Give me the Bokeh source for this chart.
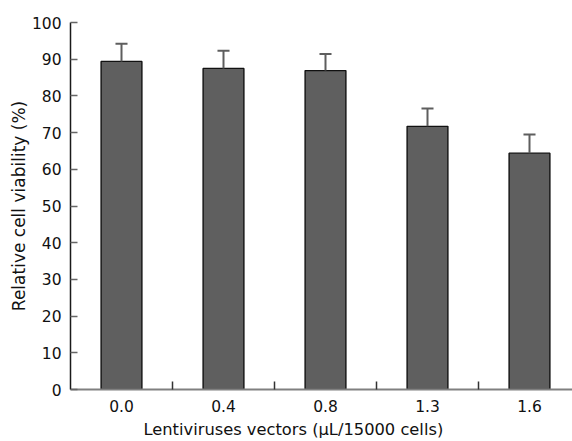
from bokeh.plotting import figure
from bokeh.models import ColumnDataSource, FixedTicker, LinearAxis, Range1d, Title
from bokeh.embed import file_html
from bokeh.resources import INLINE

categories = ["0.0", "0.4", "0.8", "1.3", "1.6"]
viability = [89.4, 87.5, 86.9, 71.7, 64.4]
errors = [4.8, 4.8, 4.5, 4.9, 5.1]
y_ticks = [0, 10, 20, 30, 40, 50, 60, 70, 80, 90, 100]
x_title = "Lentiviruses vectors (μL/15000 cells)"
y_title = "Relative cell viability (%)"

xs = list(range(len(categories)))
tops = [v + e for v, e in zip(viability, errors)]
cap = 0.059
src = ColumnDataSource(dict(x=xs, top=viability, etop=tops,
                            cl=[x - cap for x in xs], cr=[x + cap for x in xs]))

p = figure(width=572, height=441, output_backend="svg", toolbar_location=None,
           x_range=Range1d(-0.5, -0.5 + 502 / 102), y_range=Range1d(0, 100),
           min_border_left=70, min_border_right=0, min_border_top=22, min_border_bottom=0,
           x_axis_type=None, y_axis_type=None)
p.outline_line_color = None
p.grid.visible = False
p.background_fill_color = "white"
p.border_fill_color = "white"

p.vbar(x="x", width=0.4, top="top", bottom=0, source=src,
       fill_color="#5f5f5f", line_color="#111111", line_width=1.4)
p.segment(x0="x", y0="top", x1="x", y1="etop", source=src, line_color="#5e5e5e", line_width=2)
p.segment(x0="cl", y0="etop", x1="cr", y1="etop", source=src, line_color="#5e5e5e", line_width=2)

font = "DejaVu Sans"
xa = LinearAxis(ticker=FixedTicker(ticks=xs, minor_ticks=[0.5, 1.5, 2.5, 3.5]))
xa.major_label_overrides = {i: c for i, c in enumerate(categories)}
xa.major_tick_line_color = None
xa.minor_tick_in = 8
xa.minor_tick_out = 0
xa.minor_tick_line_color = "#333333"
xa.minor_tick_line_width = 1.5
xa.axis_line_color = "#808080"
xa.axis_line_width = 2
xa.major_label_text_font = font
xa.major_label_text_font_size = "15.5px"
xa.major_label_standoff = 4
xa.major_label_text_color = "#111111"
p.add_layout(xa, "below")

ya = LinearAxis(ticker=FixedTicker(ticks=y_ticks, minor_ticks=[]))
ya.major_tick_in = 7
ya.major_tick_out = 0
ya.major_tick_line_color = "#666666"
ya.major_tick_line_width = 1.5
ya.axis_line_color = "#1a1a1a"
ya.axis_line_width = 1.5
ya.axis_label = y_title
ya.axis_label_text_font = font
ya.axis_label_text_font_style = "normal"
ya.axis_label_text_font_size = "17px"
ya.axis_label_standoff = 0
ya.major_label_text_font = font
ya.major_label_text_font_size = "15.5px"
ya.major_label_standoff = 9
ya.major_label_text_color = "#111111"
ya.axis_label_text_color = "#111111"
p.add_layout(ya, "left")

xt = Title(text=x_title, align="left", offset=73, standoff=6,
           text_font=font, text_font_size="16.3px", text_font_style="normal",
           text_color="#111111")
p.add_layout(xt, "below")

open("out.html", "w").write(file_html(p, INLINE))
